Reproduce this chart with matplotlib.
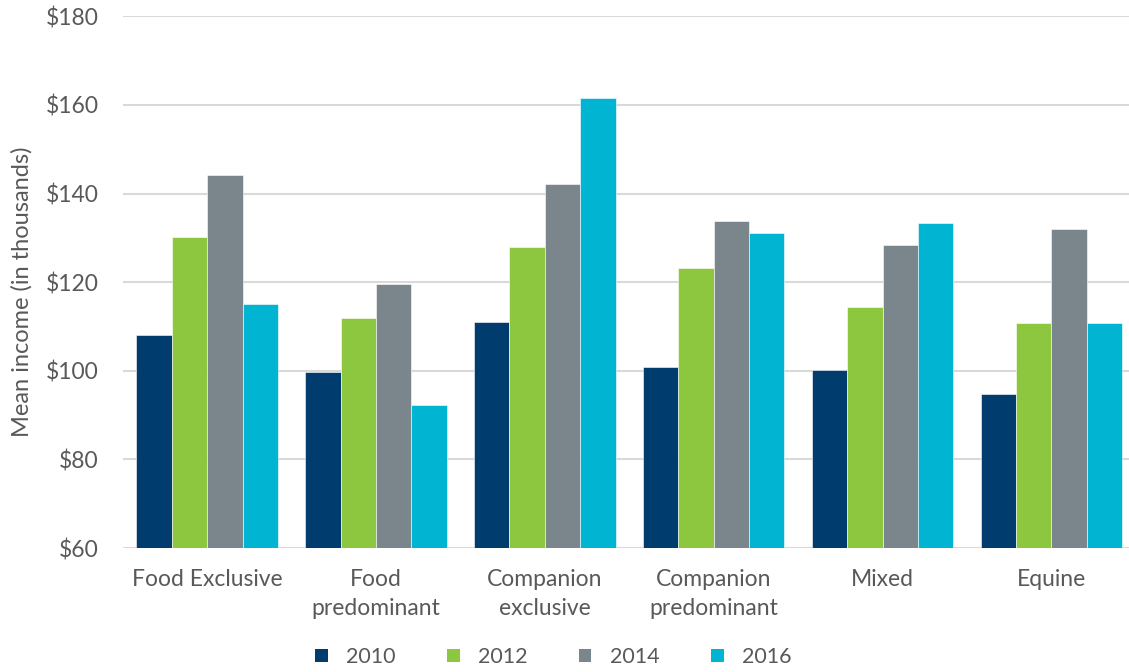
import matplotlib.pyplot as plt
import numpy as np
from matplotlib.patches import Patch

categories = ["Food Exclusive", "Food\npredominant", "Companion\nexclusive",
              "Companion\npredominant", "Mixed", "Equine"]
years = ["2010", "2012", "2014", "2016"]
income_2010 = [108.0, 99.7, 111.1, 100.8, 100.1, 94.8]
income_2012 = [130.2, 112.0, 128.0, 123.2, 114.3, 110.7]
income_2014 = [144.3, 119.6, 142.1, 133.8, 128.4, 131.9]
income_2016 = [115.1, 92.3, 161.6, 131.1, 133.3, 110.7]
yticks = [60, 80, 100, 120, 140, 160, 180]

colors = ["#003D6E", "#8DC63F", "#7B868C", "#00B4D2"]
text_color = "#595959"
grid_color = "#D9D9D9"
fs = 16.5

plt.rcParams["font.family"] = ["Lato", "DejaVu Sans"]

fig = plt.figure(figsize=(11.29, 6.72), dpi=100)
ax = fig.add_axes([0.1087, 0.1845, 0.8973, 0.7911])

series = [income_2010, income_2012, income_2014, income_2016]
x = np.arange(len(categories))
width = 0.2095
base = 60
for i, (vals, c) in enumerate(zip(series, colors)):
    heights = [v - base for v in vals]
    ax.bar(x + (i - 1.5) * width, heights, width, bottom=base, color=c,
           edgecolor="white", linewidth=0.4, zorder=3)

ax.set_ylim(60, 180)
ax.set_xlim(-0.5, len(categories) - 0.5)
ax.set_yticks(yticks)
ax.set_yticklabels([f"${v}" for v in yticks])
ax.set_xticks(x)
ax.set_xticklabels(categories, linespacing=1.5)
ax.tick_params(axis="both", length=0, labelsize=fs, colors=text_color)
ax.tick_params(axis="x", pad=15)
ax.tick_params(axis="y", pad=17.5)

ax.grid(axis="y", color=grid_color, linewidth=1.5, zorder=0)
for side in ["top", "right", "left", "bottom"]:
    ax.spines[side].set_visible(False)

ax.set_ylabel("Mean income (in thousands)", fontsize=17, color=text_color)
ax.yaxis.set_label_coords(-0.089, 0.482)

handles = [Patch(facecolor=c, edgecolor="none") for c in colors]
fig.legend(handles, years, loc="center", bbox_to_anchor=(0.49, 0.022), ncol=4,
           frameon=False, fontsize=15.5, labelcolor=text_color,
           handlelength=0.58, handleheight=0.58, handletextpad=0.85,
           columnspacing=2.4)

fig.savefig("out.png", dpi=100)
